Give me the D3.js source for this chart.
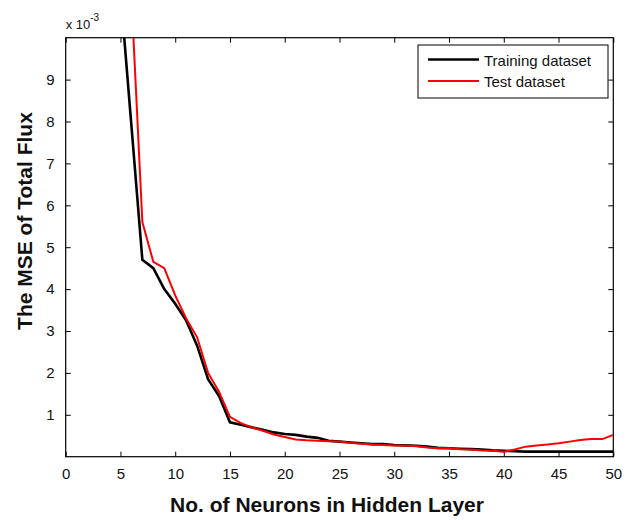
<!DOCTYPE html>
<html>
<head>
<meta charset="utf-8">
<script src="https://cdn.jsdelivr.net/npm/d3@7"></script>
<style>
  body { margin: 0; background: #fff; }
  svg { display: block; font-family: "Liberation Sans", Arial, sans-serif; }
</style>
</head>
<body>
<div id="chart"></div>
<script>
// number of neurons in hidden layer
const neurons = [5, 6, 7, 8, 9, 10, 11, 12, 13, 14, 15, 16, 17, 18, 19, 20,
  21, 22, 23, 24, 25, 26, 27, 28, 29, 30, 31, 32, 33, 34, 35, 36, 37, 38, 39, 40,
  41, 42, 43, 44, 45, 46, 47, 48, 49, 50];

// MSE (x 10^-3)
const trainingMse = [11.1, 7.9, 4.7, 4.5, 4.0, 3.65, 3.25, 2.65, 1.85, 1.45, 0.82, 0.76,
  0.70, 0.64, 0.58, 0.54, 0.52, 0.48, 0.45, 0.38, 0.36, 0.34, 0.32, 0.30, 0.30, 0.28,
  0.27, 0.26, 0.24, 0.21, 0.20, 0.19, 0.18, 0.17, 0.15, 0.14, 0.13, 0.12, 0.12, 0.12,
  0.12, 0.12, 0.12, 0.12, 0.12, 0.12];
const testMse = [14.0, 11.0, 5.6, 4.65, 4.5, 3.85, 3.3, 2.85, 2.0, 1.55, 0.95, 0.80,
  0.70, 0.62, 0.53, 0.47, 0.41, 0.39, 0.38, 0.37, 0.36, 0.33, 0.31, 0.29, 0.28, 0.27,
  0.27, 0.25, 0.22, 0.20, 0.20, 0.18, 0.17, 0.15, 0.14, 0.12, 0.17, 0.24, 0.27, 0.29,
  0.32, 0.36, 0.40, 0.42, 0.42, 0.52];

const xTicks = [0, 5, 10, 15, 20, 25, 30, 35, 40, 45, 50];
const yTicks = [1, 2, 3, 4, 5, 6, 7, 8, 9];
const seriesNames = ["Training dataset", "Test dataset"];

const width = 626, height = 520;
const margin = { left: 65.7, right: 613.3, top: 37.7, bottom: 456.7 };

const svg = d3.select("#chart").append("svg")
  .attr("width", width)
  .attr("height", height);

svg.append("rect").attr("width", width).attr("height", height).attr("fill", "#fff");

const x = d3.scaleLinear().domain([0, 50]).range([margin.left, margin.right]);
const y = d3.scaleLinear().domain([0, 10]).range([margin.bottom, margin.top]);

// axes with inward ticks, like matlab
const gx = svg.append("g")
  .attr("transform", `translate(0,${margin.bottom})`)
  .call(d3.axisBottom(x).tickValues(xTicks).tickSizeInner(-5).tickSizeOuter(0).tickPadding(12));
const gxTop = svg.append("g")
  .attr("transform", `translate(0,${margin.top})`)
  .call(d3.axisTop(x).tickValues(xTicks).tickSizeInner(-5).tickSizeOuter(0).tickFormat(""));
const gy = svg.append("g")
  .attr("transform", `translate(${margin.left},0)`)
  .call(d3.axisLeft(y).tickValues(yTicks).tickSizeInner(-5).tickSizeOuter(0).tickPadding(11));
const gyRight = svg.append("g")
  .attr("transform", `translate(${margin.right},0)`)
  .call(d3.axisRight(y).tickValues(yTicks).tickSizeInner(-5).tickSizeOuter(0).tickFormat(""));

[gx, gxTop, gy, gyRight].forEach(g => {
  g.select(".domain").remove();
  g.selectAll("line").attr("stroke", "#000");
  g.selectAll("text").attr("fill", "#111").style("font-size", "15px")
    .style("font-family", "'Liberation Sans', Arial, sans-serif");
});

svg.append("rect")
  .attr("x", margin.left).attr("y", margin.top)
  .attr("width", margin.right - margin.left).attr("height", margin.bottom - margin.top)
  .attr("fill", "none").attr("stroke", "#000").attr("stroke-width", 1.2);

// exponent label
const expo = svg.append("text")
  .attr("x", margin.left).attr("y", 29)
  .attr("fill", "#111")
  .style("font-size", "13px");
expo.append("tspan").text("x 10");
expo.append("tspan").attr("dy", -8).style("font-size", "10px").text("-3");

// lines
svg.append("clipPath").attr("id", "plot-clip")
  .append("rect")
  .attr("x", margin.left).attr("y", margin.top)
  .attr("width", margin.right - margin.left).attr("height", margin.bottom - margin.top);

const line = d3.line()
  .x(d => x(d[0]))
  .y(d => y(d[1]));

const plot = svg.append("g").attr("clip-path", "url(#plot-clip)");
plot.append("path")
  .datum(neurons.map((n, i) => [n, trainingMse[i]]))
  .attr("d", line)
  .attr("fill", "none")
  .attr("stroke", "#000")
  .attr("stroke-width", 2.6);
plot.append("path")
  .datum(neurons.map((n, i) => [n, testMse[i]]))
  .attr("d", line)
  .attr("fill", "none")
  .attr("stroke", "#f00")
  .attr("stroke-width", 2);

// legend
const legend = svg.append("g");
legend.append("rect")
  .attr("x", 418).attr("y", 45)
  .attr("width", 190).attr("height", 53)
  .attr("fill", "#fff").attr("stroke", "#000").attr("stroke-width", 1);
const legendColors = ["#000", "#f00"];
const legendWidths = [2.6, 2];
seriesNames.forEach((name, i) => {
  const cy = 59.5 + i * 21.5;
  legend.append("line")
    .attr("x1", 428).attr("x2", 479)
    .attr("y1", cy).attr("y2", cy)
    .attr("stroke", legendColors[i]).attr("stroke-width", legendWidths[i]);
  legend.append("text")
    .attr("x", 484).attr("y", cy + 6)
    .attr("fill", "#111")
    .style("font-size", "15px")
    .text(name);
});

// axis titles
svg.append("text")
  .attr("x", 327).attr("y", 512)
  .attr("text-anchor", "middle")
  .attr("fill", "#111")
  .style("font-size", "21px").style("font-weight", "bold")
  .text("No. of Neurons in Hidden Layer");

svg.append("text")
  .attr("transform", "translate(32,221) rotate(-90)")
  .attr("text-anchor", "middle")
  .attr("fill", "#111")
  .style("font-size", "21px").style("font-weight", "bold")
  .text("The MSE of Total Flux");
</script>
</body>
</html>
